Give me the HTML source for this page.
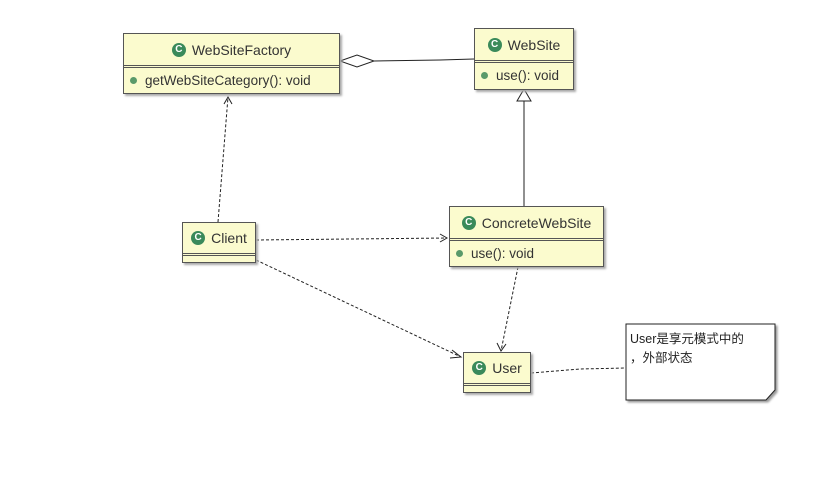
<!DOCTYPE html>
<html><head><meta charset="utf-8"><style>
body{margin:0;background:#fff;width:831px;height:482px;overflow:hidden;position:relative;font-family:"Liberation Sans","Noto Sans CJK SC",sans-serif;}
.c{position:absolute;background:#fbfbce;border:1px solid #555;box-shadow:2px 2px 2px #aaa;font-size:13px;color:#333;}
.h{display:flex;align-items:center;justify-content:center;border-bottom:3px double #555;font-size:14px;}
.i{display:inline-block;width:14px;height:14px;border-radius:50%;background:#3a8a5a;color:#fff;font-size:10px;font-weight:bold;line-height:14px;text-align:center;margin-right:6px;}
.m{padding-left:6px;display:flex;align-items:center;font-size:13.5px;}
.d{display:inline-block;width:7px;height:7px;border-radius:50%;background:#5a9a6a;margin-right:8px;}
</style></head><body>
<svg width="831" height="482" style="position:absolute;left:0;top:0">
<g stroke="#222" fill="none" stroke-width="1">
<polygon points="340,61 357,55 374,61 357,67" fill="#fff"/>
<polyline points="374,61 440,60 474,59"/>
<polygon points="524,89 517,101 531,101" fill="#fff"/>
<line x1="524" y1="101" x2="524" y2="206"/>
<g stroke-dasharray="3,2">
<line x1="218" y1="222" x2="228" y2="97"/>
<line x1="256" y1="240" x2="447" y2="238"/>
<line x1="256" y1="260" x2="461" y2="357"/>
<line x1="518" y1="267" x2="501" y2="351"/>
<polyline points="531,373 580,369 626,368"/>
</g>
<polyline points="224,104 228,97 232,104"/>
<polyline points="440,234 447,238 440,242"/>
<polyline points="452,350 461,357 450,358"/>
<polyline points="497,343 501,351 506,344"/>
<polygon points="626,324 775,324 775,390 766,400 626,400" fill="#fff" style="filter:drop-shadow(2px 2px 1px #999)"/>
</g>
</svg>
<div class="c" style="left:123px;top:33px;width:215px;height:59px">
<div class="h" style="height:31px"><span class="i">C</span>WebSiteFactory</div>
<div class="m" style="height:24px"><span class="d"></span>getWebSiteCategory(): void</div></div>
<div class="c" style="left:474px;top:28px;width:98px;height:60px">
<div class="h" style="height:31px"><span class="i">C</span>WebSite</div>
<div class="m" style="height:25px"><span class="d"></span>use(): void</div></div>
<div class="c" style="left:449px;top:206px;width:153px;height:59px">
<div class="h" style="height:31px"><span class="i">C</span>ConcreteWebSite</div>
<div class="m" style="height:24px"><span class="d"></span>use(): void</div></div>
<div class="c" style="left:182px;top:222px;width:72px;height:39px">
<div class="h" style="height:30px"><span class="i">C</span>Client</div></div>
<div class="c" style="left:463px;top:352px;width:66px;height:39px">
<div class="h" style="height:30px"><span class="i">C</span>User</div></div>
<div style="position:absolute;left:630px;top:330px;font-size:12.5px;line-height:19px;color:#222">User是享元模式中的<br>，外部状态</div>
</body></html>
